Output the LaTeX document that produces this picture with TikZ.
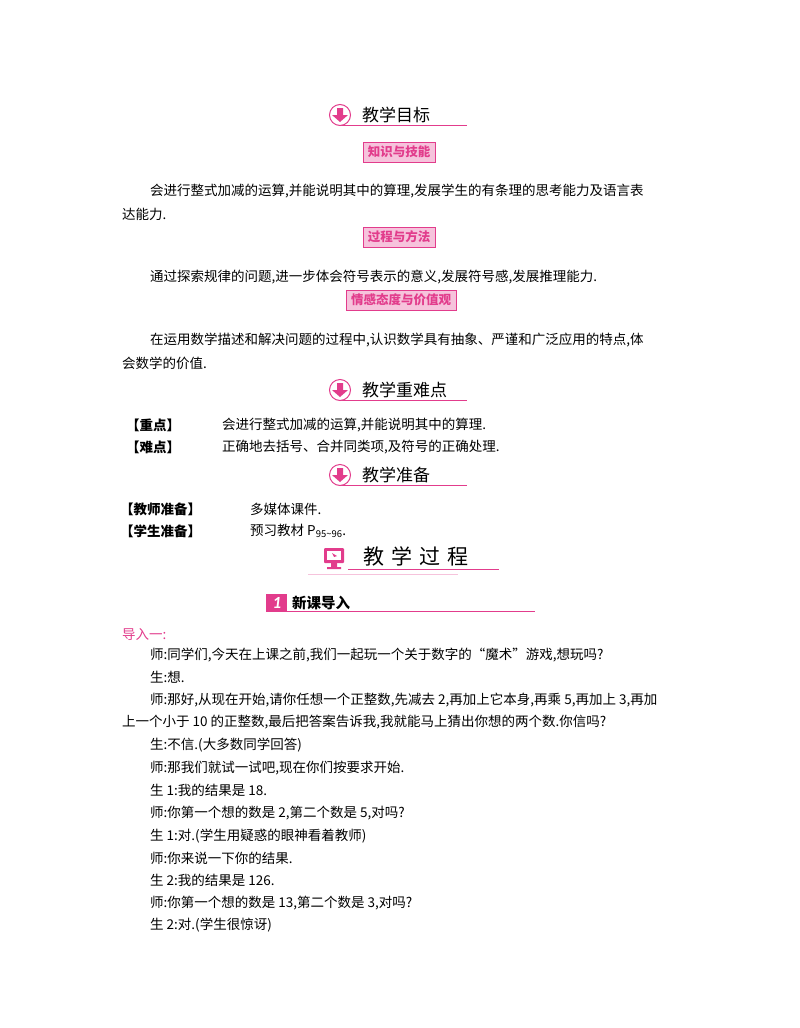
\documentclass[tikz,border=0pt]{standalone}
\usepackage{fontspec}
\setmainfont{Carlito}
\newfontfamily\cjk{Noto Sans CJK SC}
\definecolor{pk}{HTML}{E23C8C}
\definecolor{pkl}{HTML}{F6C3DC}
\begin{document}
\begin{tikzpicture}[x=1pt,y=-1pt,
  txt/.style={anchor=west,inner sep=0pt,font=\cjk\fontsize{13.5}{15}\selectfont},
  bt/.style={txt,font=\cjk\bfseries\fontsize{13.5}{15}\selectfont},
  hd/.style={anchor=west,inner sep=0pt,font=\cjk\fontsize{17}{19}\selectfont},
  tag/.style={draw=pk,fill=pkl,text=pk,inner xsep=5pt,inner ysep=2pt,minimum height=20pt,font=\cjk\bfseries\fontsize{12.5}{14}\selectfont},
  hline/.style={draw=pk,line width=0.9pt}]
\useasboundingbox (0,0) rectangle (800,1028);
\foreach \y/\t/\n in {115/教学目标/a,390/教学重难点/b,475/教学准备/c}{
  \draw[hline] (340,\y+10) -- (467,\y+10);
  \node[circle,draw=pk,line width=1pt,fill=white,minimum size=21pt,inner sep=0pt] (ic\n) at (340,\y) {};
  \fill[pk] (337,\y-7) rectangle (343,\y) (332,\y) -- (348,\y) -- (340,\y+7) -- cycle;
  \node[hd] (h\n) at (362,\y) {\t};
}
\node[tag] (t1) at (399,152) {知识与技能};
\node[tag] (t2) at (399,237) {过程与方法};
\node[tag] (t3) at (401,300) {情感态度与价值观};
\node[txt] (p1) at (150,191) {会进行整式加减的运算,并能说明其中的算理,发展学生的有条理的思考能力及语言表};
\node[txt] (p1b) at (122,214) {达能力.};
\node[txt] (p2) at (150,277) {通过探索规律的问题,进一步体会符号表示的意义,发展符号感,发展推理能力.};
\node[txt] (p3) at (150,340) {在运用数学描述和解决问题的过程中,认识数学具有抽象、严谨和广泛应用的特点,体};
\node[txt] (p3b) at (122,363) {会数学的价值.};
\node[bt] (k1) at (126,425) {【重点】};
\node[txt] (k1t) at (222,425) {会进行整式加减的运算,并能说明其中的算理.};
\node[bt] (k2) at (126,447) {【难点】};
\node[txt] (k2t) at (222,447) {正确地去括号、合并同类项,及符号的正确处理.};
\node[bt] (z1) at (120,509) {【教师准备】};
\node[txt] (z1t) at (250,509) {多媒体课件.};
\node[bt] (z2) at (120,531) {【学生准备】};
\node[txt] (z2t) at (250,531) {预习教材 P\textsubscript{95\textasciitilde96}.};
% 教学过程
\fill[pk,rounded corners=1pt] (324,548) rectangle (344,563);
\fill[white] (327,551) rectangle (341,560);
\fill[pk] (331,563) rectangle (337,567) (327,567) rectangle (341,569);
\fill[pk] (332,553) -- (337,556) -- (334,557) -- cycle;
\node[anchor=west,inner sep=0pt,font=\cjk\fontsize{21}{23}\selectfont] (gc) at (363,556) {教\,\,学\,\,过\,\,程};
\draw[hline] (348,569) -- (499,569);
\draw[hline,draw=pkl] (308,574) -- (458,574);
% 新课导入
\fill[pk] (266,594) rectangle (287,612);
\node[inner sep=0pt,text=white,font=\bfseries\itshape\fontsize{17}{17}\selectfont] (n1) at (277,603) {1};
\node[anchor=west,inner sep=0pt,font=\cjk\bfseries\fontsize{14.5}{16}\selectfont] (xk) at (292,603) {新课导入};
\draw[hline,line width=0.6pt] (287,611) -- (535,611);
\node[txt,text=pk] (d1) at (122,634) {导入一:};
\node[txt] (l1) at (150,655) {师:同学们,今天在上课之前,我们一起玩一个关于数字的“魔术”游戏,想玩吗?};
\node[txt] (l2) at (150,677) {生:想.};
\node[txt] (l3) at (150,700) {师:那好,从现在开始,请你任想一个正整数,先减去 2,再加上它本身,再乘 5,再加上 3,再加};
\node[txt] (l4) at (122,722) {上一个小于 10 的正整数,最后把答案告诉我,我就能马上猜出你想的两个数.你信吗?};
\node[txt] (l5) at (150,745) {生:不信.(大多数同学回答)};
\node[txt] (l6) at (150,768) {师:那我们就试一试吧,现在你们按要求开始.};
\node[txt] (l7) at (150,790) {生 1:我的结果是 18.};
\node[txt] (l8) at (150,813) {师:你第一个想的数是 2,第二个数是 5,对吗?};
\node[txt] (l9) at (150,836) {生 1:对.(学生用疑惑的眼神看着教师)};
\node[txt] (l10) at (150,858) {师:你来说一下你的结果.};
\node[txt] (l11) at (150,880) {生 2:我的结果是 126.};
\node[txt] (l12) at (150,903) {师:你第一个想的数是 13,第二个数是 3,对吗?};
\node[txt] (l13) at (150,925) {生 2:对.(学生很惊讶)};
\end{tikzpicture}
\end{document}
